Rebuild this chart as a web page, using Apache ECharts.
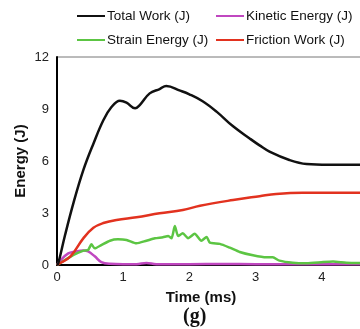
<!DOCTYPE html>
<html>
<head>
<meta charset="utf-8">
<script src="https://cdn.jsdelivr.net/npm/echarts@6/dist/echarts.min.js"></script>
<style>
  html, body { margin: 0; padding: 0; background: #fff; }
  #chart { width: 360px; height: 329px; }
</style>
</head>
<body>
<div id="chart"></div>
<script>
// Energy histories (time in ms, energy in J)
const totalTime   = [0, 0.02, 0.12, 0.25, 0.40, 0.55, 0.70, 0.82, 0.95, 1.05, 1.18, 1.25, 1.40, 1.55, 1.65, 1.86, 2.00, 2.20, 2.41, 2.66, 2.91, 3.06, 3.21, 3.51, 3.77, 4.10, 4.70];
const totalWork   = [0, 0.1, 1.7, 3.6, 5.5, 7.0, 8.35, 9.1, 9.48, 9.37, 9.04, 9.23, 9.9, 10.15, 10.33, 10.06, 9.85, 9.45, 8.85, 8.0, 7.3, 6.9, 6.54, 6.06, 5.83, 5.79, 5.79];

const frictionTime = [0, 0.02, 0.20, 0.40, 0.55, 0.70, 0.90, 1.20, 1.55, 1.90, 2.16, 2.66, 3.06, 3.31, 3.71, 4.10, 4.70];
const frictionWork = [0, 0.05, 0.48, 1.55, 2.15, 2.42, 2.6, 2.75, 2.98, 3.17, 3.42, 3.75, 3.97, 4.1, 4.17, 4.17, 4.17];

const strainTime   = [0, 0.02, 0.25, 0.40, 0.47, 0.52, 0.57, 0.67, 0.80, 0.92, 1.05, 1.20, 1.35, 1.48, 1.60, 1.68, 1.73, 1.78, 1.83, 1.90, 1.98, 2.08, 2.18, 2.26, 2.31, 2.46, 2.61, 2.76, 2.96, 3.16, 3.26, 3.36, 3.56, 3.77, 4.02, 4.17, 4.37, 4.70];
const strainEnergy = [0, 0.05, 0.58, 0.83, 0.87, 1.19, 0.96, 1.15, 1.40, 1.48, 1.44, 1.25, 1.40, 1.54, 1.60, 1.67, 1.54, 2.25, 1.67, 1.83, 1.55, 1.80, 1.40, 1.62, 1.29, 1.22, 1.00, 0.75, 0.56, 0.44, 0.44, 0.25, 0.13, 0.10, 0.17, 0.20, 0.13, 0.10];

const kineticTime   = [0, 0.05, 0.17, 0.27, 0.40, 0.47, 0.57, 0.67, 0.80, 1.00, 1.20, 1.35, 1.50, 2.00, 2.50, 3.00, 3.50, 4.00, 4.70];
const kineticEnergy = [0, 0.25, 0.67, 0.77, 0.83, 0.78, 0.50, 0.17, 0.07, 0.05, 0.05, 0.12, 0.05, 0.05, 0.06, 0.05, 0.05, 0.05, 0.05];

const yTicks = [0, 3, 6, 9, 12];
const xTicks = [0, 1, 2, 3, 4, 5];

const pair = (ts, vs) => ts.map((t, i) => [t, vs[i]]);

const series = [
  { name: 'Total Work (J)',     color: '#111111', smooth: 0.4, data: pair(totalTime, totalWork) },
  { name: 'Kinetic Energy (J)', color: '#c047c0', smooth: 0.4, data: pair(kineticTime, kineticEnergy) },
  { name: 'Strain Energy (J)',  color: '#5cc543', smooth: 0.2, data: pair(strainTime, strainEnergy) },
  { name: 'Friction Work (J)',  color: '#e2321f', smooth: 0.4, data: pair(frictionTime, frictionWork) }
];

const legendPos = [
  { left: 77,  top: 9 },
  { left: 216, top: 9 },
  { left: 77,  top: 33 },
  { left: 216, top: 33 }
];

const font = 'Liberation Sans, Arial, sans-serif';

const chart = echarts.init(document.getElementById('chart'), null, { renderer: 'canvas' });
chart.setOption({
  animation: false,
  backgroundColor: '#fff',
  legend: series.map((s, i) => ({
    data: [s.name],
    left: legendPos[i].left,
    top: legendPos[i].top,
    icon: 'rect',
    itemWidth: 28,
    itemHeight: 2,
    itemGap: 0,
    padding: 0,
    textStyle: { fontFamily: font, fontSize: 13.5, color: '#111', padding: [0, 0, 0, -3] }
  })),
  grid: {
    left: 57, top: 57, bottom: 64, right: -28,
    outerBoundsMode: 'none',
    containLabel: false,
    show: true, borderColor: '#777', borderWidth: 1
  },
  xAxis: {
    type: 'value',
    min: xTicks[0], max: xTicks[xTicks.length - 1], interval: 1,
    name: 'Time (ms)',
    nameLocation: 'middle',
    nameGap: 25,
    nameTextStyle: { fontFamily: font, fontSize: 15, fontWeight: 'bold', color: '#111', padding: [0, 43, 0, 0] },
    axisLine: { lineStyle: { color: '#000', width: 2 } },
    axisTick: { show: false },
    splitLine: { show: false },
    axisLabel: { fontFamily: font, fontSize: 13, color: '#222', margin: 6 }
  },
  yAxis: {
    type: 'value',
    min: yTicks[0], max: yTicks[yTicks.length - 1], interval: 3,
    name: 'Energy (J)',
    nameLocation: 'middle',
    nameGap: 29,
    nameMoveOverlap: false,
    nameTextStyle: { fontFamily: font, fontSize: 15, fontWeight: 'bold', color: '#111' },
    axisLine: { show: true, lineStyle: { color: '#000', width: 2 } },
    axisTick: { show: false },
    splitLine: { show: false },
    axisLabel: { fontFamily: font, fontSize: 13, color: '#222', margin: 8 }
  },
  graphic: [{
    type: 'text',
    left: 183, top: 307,
    style: { text: '(g)', font: 'bold 20px "Liberation Serif", "DejaVu Serif", serif', fill: '#111' }
  }],
  series: series.map(s => ({
    name: s.name,
    type: 'line',
    data: s.data,
    smooth: s.smooth,
    showSymbol: false,
    symbol: 'none',
    color: s.color,
    lineStyle: { color: s.color, width: 2.5 },
    z: s.name.startsWith('Total') ? 4 : 3
  }))
});
</script>
</body>
</html>
